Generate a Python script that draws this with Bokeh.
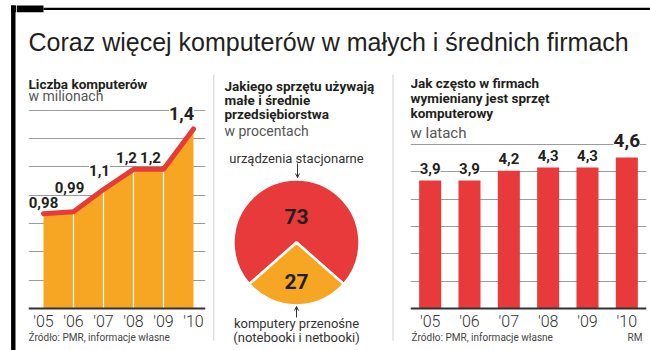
import math
from bokeh.plotting import figure
from bokeh.models import (Range1d, FactorRange, ColumnDataSource, Label, LabelSet,
                          FixedTicker, Arrow, OpenHead, Grid)
from bokeh.layouts import row, column
from bokeh.embed import file_html
from bokeh.resources import INLINE
from bokeh.core.properties import value

# ---------------- data ----------------
title_text = "Coraz więcej komputerów w małych i średnich firmach"
years = ["'05", "'06", "'07", "'08", "'09", "'10"]
computers_mln = [0.98, 0.99, 1.1, 1.2, 1.2, 1.4]
device_names = ["urządzenia stacjonarne", "komputery przenośne"]
device_share = [73, 27]
device_note = "(notebooki i netbooki)"
replace_years = [3.9, 3.9, 4.2, 4.3, 4.3, 4.6]
panel1_head = ["Liczba komputerów"]
panel1_unit = "w milionach"
panel2_head = ["Jakiego sprzętu używają", "małe i średnie", "przedsiębiorstwa"]
panel2_unit = "w procentach"
panel3_head = ["Jak często w firmach", "wymieniany jest sprzęt", "komputerowy"]
panel3_unit = "w latach"
source_text = "Źródło: PMR, informacje własne"
author = "RM"

# ---------------- style ----------------
ORANGE = "#F6A623"
RED = "#E8393B"
LINE_RED = "#E63B36"
DARK = "#231F20"
GREY_TXT = "#555555"
GRID = "#9C9C9C"
TF = "Liberation Sans"
F = "Roboto"
FL = "Roboto Light"
TOP, BOT = 72, 350  # page rows covered by the panel figures
PH = BOT - TOP
HS = 13.5           # heading size
SS = 10             # source-note size


def fmt(v):
    return f"{v:g}".replace(".", ",")


def bare(w, h, xr, yr, **kw):
    p = figure(width=w, height=h, x_range=xr, y_range=yr, output_backend="svg",
               toolbar_location=None, min_border=0, **kw)
    p.outline_line_color = None
    p.background_fill_color = "white"
    p.border_fill_color = "white"
    p.xgrid.visible = False
    p.ygrid.visible = False
    return p


def label(p, x, y, s, size, bold=False, color=DARK, align="left", font=F, baseline="middle"):
    p.add_layout(Label(x=x, y=y, text=s, text_font=font, text_font_size=f"{size}px",
                       text_font_style="bold" if bold else "normal", text_color=color,
                       text_align=align, text_baseline=baseline))


def mapper(fl, fr, ft, fb, x0, x1, y0, y1):
    def f(X, Y):
        return (x0 + (X - fl) / (fr - fl) * (x1 - x0), y0 + (fb - Y) / (fb - ft) * (y1 - y0))
    return f


def style_axis(a):
    a.axis_line_color = "#333333"
    a.axis_line_width = 2
    a.major_tick_line_color = None
    a.minor_tick_line_color = None
    a.major_label_text_font = FL
    a.major_label_text_font_size = "16px"
    a.major_label_text_color = "#333333"
    a.major_label_standoff = -3


# ---------------- left strip ----------------
L = bare(16, 350, Range1d(0, 16), Range1d(0, 350), x_axis_location=None, y_axis_location=None)
LY = lambda Y: 350 - Y
L.segment(x0=[12.8, 10.5], y0=[LY(5), LY(8.4)], x1=[12.8, 16], y1=[LY(350), LY(8.4)],
          line_color="black", line_width=[4.4, 6.8])

# ---------------- top title ----------------
T = bare(634, TOP, Range1d(16, 650), Range1d(0, TOP), x_axis_location=None, y_axis_location=None)
TY = lambda Y: TOP - Y
T.segment(x0=[16, 43], y0=[TY(8.4), TY(8.3)], x1=[43, 650], y1=[TY(8.4), TY(8.3)],
          line_color="black", line_width=[6.8, 2.2])
label(T, 28, TY(41), title_text, 25, font=TF, baseline="middle")

# ---------------- panel 1: line/area ----------------
Y0 = 0.51            # value at the baseline
PX1 = 201.7          # pixels per million
FR1 = 205            # right edge of the panel-1 frame (page px)
XS1, XE1 = -0.5, 5 + (FR1 - 193) / 30
y1s = Y0 - (BOT - 308) / PX1
y1e = Y0 + (308 - TOP) / PX1
p1 = bare(194, PH, Range1d(XS1, XE1), Range1d(y1s, y1e), y_axis_location=None,
          min_border_left=12, min_border_right=210 - FR1)
m1 = mapper(28, FR1, TOP, BOT, XS1, XE1, y1s, y1e)
step1 = 0.1405
p1.add_layout(Grid(dimension=1, ticker=FixedTicker(ticks=[Y0 + k * step1 for k in range(1, 8)]),
                   grid_line_color=GRID, grid_line_width=1))
idx = list(range(len(years)))
src1 = ColumnDataSource(dict(
    x=idx, v=computers_mln, lab=[fmt(v) for v in computers_mln],
    dx=[0, -4, -4, -7, -13, -12], dy=[11, 24, 19, 12, 12, 15],
    fs=["15px"] * 5 + ["18px"],
))
p1.varea(x="x", y1=Y0, y2="v", source=src1, fill_color=ORANGE)
p1.segment(x0=idx[1:-1], y0=[Y0] * 4, x1=idx[1:-1], y1=computers_mln[1:-1],
           line_color="white", line_width=1.2)
p1.line("x", "v", source=src1, line_color=LINE_RED, line_width=5, line_cap="round", line_join="round")
p1.add_layout(LabelSet(x="x", y="v", text="lab", source=src1, x_offset="dx", y_offset="dy",
                       text_font=value(F), text_font_style="bold", text_font_size="fs",
                       text_color=DARK, text_align="center", text_baseline="middle",
                       background_fill_color="white"))
ax = p1.xaxis[0]
ax.fixed_location = Y0
ax.ticker = FixedTicker(ticks=idx)
ax.major_label_overrides = {i: y for i, y in enumerate(years)}
style_axis(ax)
x, y = m1(28, 83); label(p1, x, y, panel1_head[0], HS, bold=True)
x, y = m1(28, 95); label(p1, x, y, panel1_unit, 14, color=GREY_TXT)
x, y = m1(28, 337); label(p1, x, y, source_text, SS, color="#444444")

# ---------------- panel 2: pie ----------------
p2 = bare(185, PH, Range1d(210, 395), Range1d(0, PH), x_axis_location=None, y_axis_location=None)
PY = lambda Y: BOT - Y
p2.segment(x0=[213.3, 392.5], y0=[PY(74), PY(74)], x1=[213.3, 392.5], y1=[PY(340), PY(340)],
           line_color="#CFCFCF", line_width=1)
for i, s in enumerate(panel2_head):
    label(p2, 224, PY(85 + 14 * i), s, HS, bold=True)
label(p2, 224, PY(130), panel2_unit, 14, color=GREY_TXT)
total = sum(device_share)
half = device_share[1] / total * math.pi
starts = [-math.pi / 2 + half, -math.pi / 2 - half]
ends = [-math.pi / 2 - half + 2 * math.pi, -math.pi / 2 + half]
p2.wedge(x=296, y=PY(242), radius=63, start_angle=starts, end_angle=ends,
         fill_color=[RED, ORANGE], line_color="white", line_width=2.5)
label(p2, 296, PY(216), str(device_share[0]), 21, bold=True, align="center")
label(p2, 296, PY(281), str(device_share[1]), 21, bold=True, align="center")
label(p2, 296, PY(158), device_names[0], 13, color="#333333", align="center")
label(p2, 296, PY(323), device_names[1], 13, color="#333333", align="center")
label(p2, 296, PY(337), device_note, 13, color="#333333", align="center")
p2.add_layout(Arrow(x_start=297, y_start=PY(163), x_end=297, y_end=PY(177),
                    line_color="#333333", line_width=1,
                    end=OpenHead(size=4, line_color="#333333", line_width=1)))
p2.add_layout(Arrow(x_start=296, y_start=PY(317), x_end=296, y_end=PY(306),
                    line_color="#333333", line_width=1,
                    end=OpenHead(size=4, line_color="#333333", line_width=1)))

# ---------------- panel 3: bars ----------------
PX3 = 32.8           # pixels per year
y3s = -(BOT - 308) / PX3
y3e = (308 - TOP) / PX3
p3 = bare(255, PH, FactorRange(*years, range_padding=0), Range1d(y3s, y3e), y_axis_location=None,
          min_border_left=15, min_border_right=4)
m3 = mapper(410, 646, TOP, BOT, 0, len(years), y3s, y3e)
p3.add_layout(Grid(dimension=1, ticker=FixedTicker(ticks=[k * 5 / 6 for k in range(1, 7)]),
                   grid_line_color=GRID, grid_line_width=1))
src3 = ColumnDataSource(dict(
    x=years, v=replace_years, lab=[fmt(v) for v in replace_years],
    dy=[12] * 5 + [17], fs=["15px"] * 5 + ["19px"],
))
p3.vbar(x="x", top="v", width=0.56, source=src3, fill_color=RED, line_color=None)
p3.add_layout(LabelSet(x="x", y="v", text="lab", source=src3, y_offset="dy",
                       text_font=value(F), text_font_style="bold", text_font_size="fs",
                       text_color=DARK, text_align="center", text_baseline="middle",
                       background_fill_color="white"))
a3 = p3.xaxis[0]
a3.fixed_location = 0
style_axis(a3)
for i, s in enumerate(panel3_head):
    x, y = m3(410, 82 + 15 * i); label(p3, x, y, s, HS, bold=True)
x, y = m3(410, 132); label(p3, x, y, panel3_unit, 15, color=GREY_TXT)
x, y = m3(411, 337); label(p3, x, y, source_text, SS, color="#444444")
x, y = m3(642, 337); label(p3, x, y, author, SS, color="#444444", align="right")

layout = row(L, column(T, row(p1, p2, p3)))
open("out.html", "w").write(file_html(layout, INLINE))
